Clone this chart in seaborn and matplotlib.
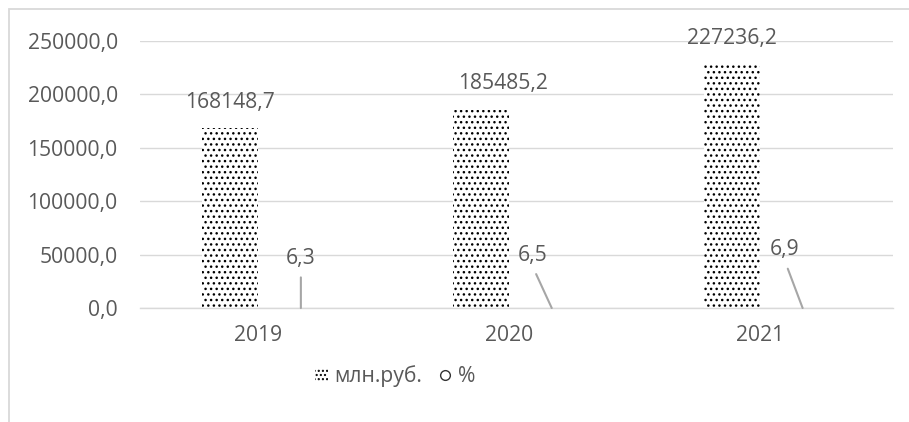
import seaborn as sns
import matplotlib.pyplot as plt
import matplotlib.transforms as mtransforms
import pandas as pd
from matplotlib.patches import Rectangle, Patch
from matplotlib.lines import Line2D
from matplotlib.ticker import FuncFormatter, MultipleLocator

# chart data
years = ["2019", "2020", "2021"]
rub_values = [168148.7, 185485.2, 227236.2]
pct_values = [6.3, 6.5, 6.9]
series_names = ["млн.руб.", "%"]

# label nudges (points) as placed in the source chart
rub_label_dx = [0, 16, 0]
pct_label_dx = [0, -14, -13]
pct_label_dy = [36, 38, 42]

text_color = "#595959"
grid_color = "#d9d9d9"
font_size = 15.2

# long table for seaborn
df = pd.DataFrame({
    "year": years * 2,
    "value": rub_values + pct_values,
    "series": [series_names[0]] * 3 + [series_names[1]] * 3,
})

sns.set_theme(style="white")
plt.rcParams["font.family"] = ["Open Sans", "DejaVu Sans"]
plt.rcParams["hatch.linewidth"] = 1.0

# make a canvas
fig = plt.figure(figsize=(9.09, 4.22), dpi=100, facecolor="white")
ax = fig.add_axes([0.154, 0.270, 0.828, 0.633])

sns.barplot(
    data=df, x="year", y="value", hue="series",
    width=0.565, gap=0.21, dodge=True,
    palette=["white", "white"], saturation=1,
    legend=False, ax=ax, errorbar=None,
)

# pattern fills
for bar in ax.containers[0]:
    bar.set_hatch("...")
    bar.set_edgecolor("black")
    bar.set_linewidth(0)
for bar in ax.containers[1]:
    bar.set_hatch("o")
    bar.set_edgecolor("black")
    bar.set_linewidth(0)

# axis setup
ax.set_ylim(0, 250000)
ax.yaxis.set_major_locator(MultipleLocator(50000))
ax.yaxis.set_major_formatter(FuncFormatter(lambda v, p: f"{v:.1f}".replace(".", ",")))
ax.grid(axis="y", color=grid_color, linewidth=1.0)
ax.set_axisbelow(True)
for side in ["left", "right", "top"]:
    ax.spines[side].set_visible(False)
ax.spines["bottom"].set_color(grid_color)
ax.spines["bottom"].set_linewidth(1.0)
ax.tick_params(axis="both", length=0, labelsize=font_size, labelcolor=text_color)
ax.tick_params(axis="y", pad=16)
ax.tick_params(axis="x", pad=12)
ax.set_xlabel("")
ax.set_ylabel("")

# category labels sit a little left of centre in the source
shift = mtransforms.ScaledTranslation(-0.07, 0, fig.dpi_scale_trans)
for lbl in ax.get_xticklabels():
    lbl.set_transform(lbl.get_transform() + shift)

# value labels above the main bars
for bar, val, dx in zip(ax.containers[0], rub_values, rub_label_dx):
    ax.annotate(
        f"{val:.1f}".replace(".", ","),
        xy=(bar.get_x() + bar.get_width() / 2, bar.get_height()),
        xytext=(dx, 19), textcoords="offset points",
        ha="center", va="center", fontsize=font_size, color=text_color,
    )

# percent labels with leader lines
for bar, val, dx, dy in zip(ax.containers[1], pct_values, pct_label_dx, pct_label_dy):
    ax.annotate(
        f"{val:.1f}".replace(".", ","),
        xy=(bar.get_x() + bar.get_width() / 2, bar.get_height()),
        xytext=(dx, dy), textcoords="offset points",
        ha="center", va="center", fontsize=font_size, color=text_color,
        arrowprops=dict(arrowstyle="-", color="#a6a6a6", lw=1.5,
                        relpos=(0.5, 0.0), shrinkA=4, shrinkB=0),
    )

# legend
handles = [
    Patch(facecolor="white", edgecolor="black", linewidth=0, hatch="...."),
    Line2D([], [], linestyle="none", marker="o", markersize=7,
           markerfacecolor="none", markeredgecolor="#333333", markeredgewidth=1.0),
]
fig.legend(
    handles, series_names, loc="center", bbox_to_anchor=(0.435, 0.109),
    ncol=2, frameon=False, fontsize=font_size, labelcolor=text_color,
    handlelength=0.6, handleheight=0.6, handletextpad=0.3, columnspacing=0.8,
)

# chart border
fig.add_artist(Rectangle((0.0094, -0.2), 1.5, 0.9775 + 0.2, transform=fig.transFigure,
                         fill=False, edgecolor=grid_color, linewidth=1.3))

fig.savefig("out.png", dpi=100, facecolor="white")
plt.close("all")
